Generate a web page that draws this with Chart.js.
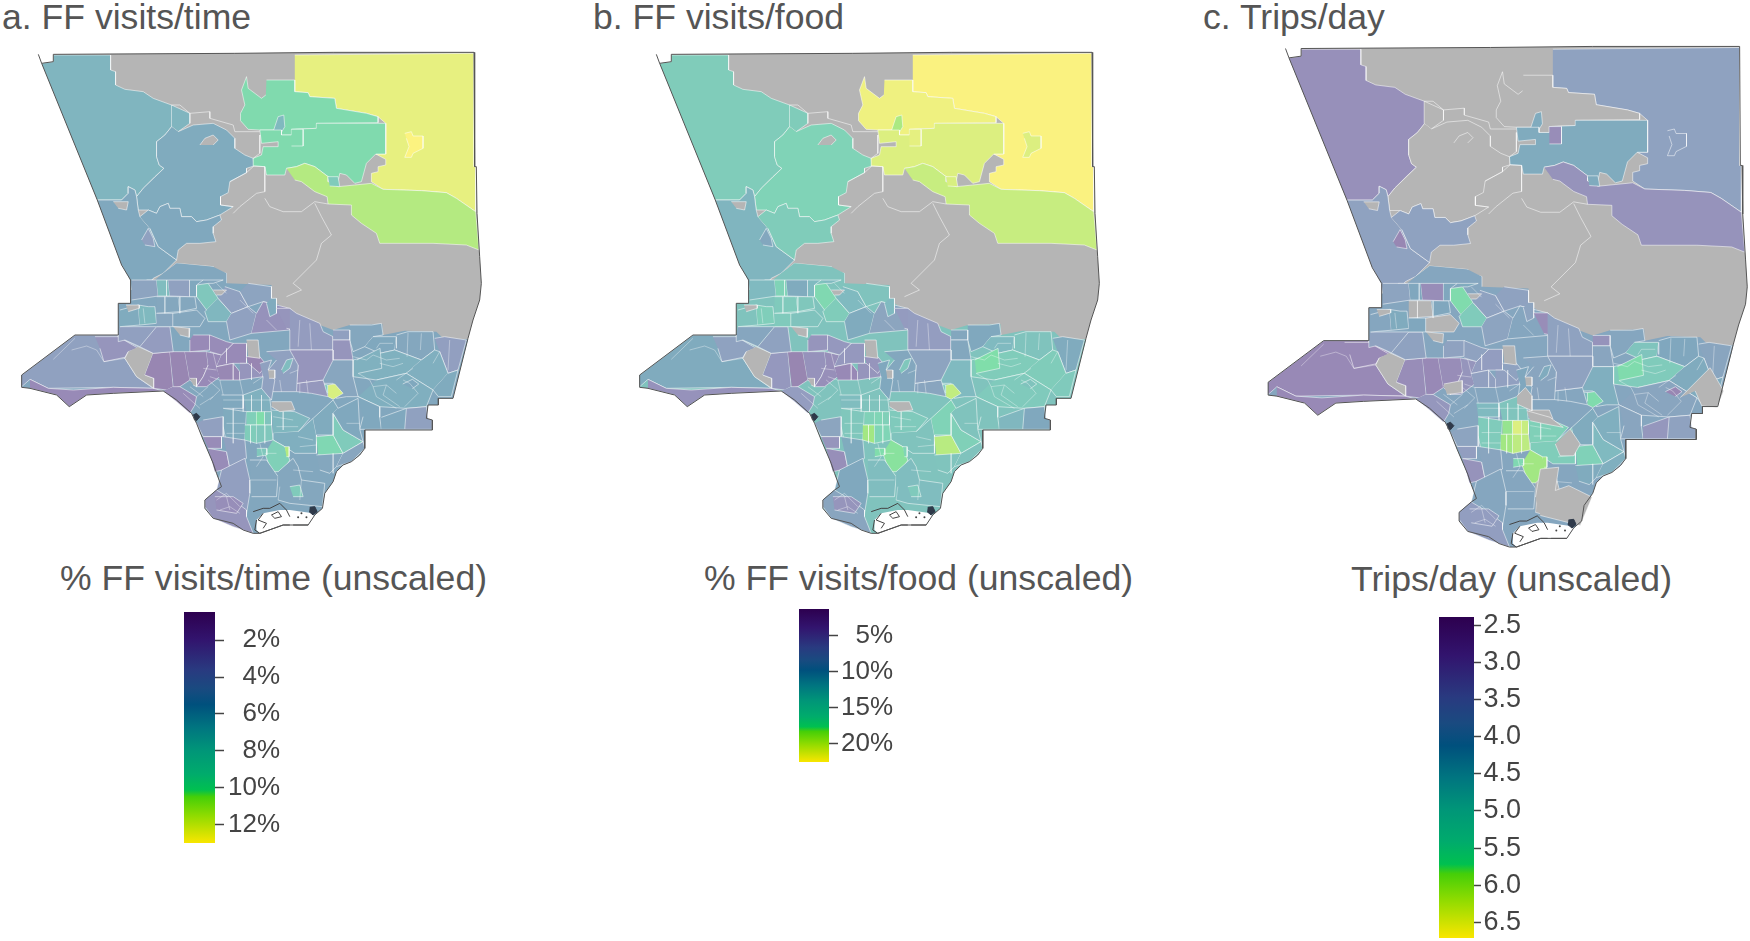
<!DOCTYPE html>
<html>
<head>
<meta charset="utf-8">
<script src="https://cdn.jsdelivr.net/npm/chart.js@4"></script>
<style>
  body { margin: 0; background: #fff; width: 1750px; height: 941px; overflow: hidden; position: relative; font-family: "Liberation Sans", Arial, sans-serif; }
  canvas { position: absolute; }
  .title { position: absolute; font-size: 35.6px; line-height: 36px; color: #555; white-space: nowrap; }
</style>
</head>
<body>
<div class="title" style="left:2px;top:-1px">a. FF visits/time</div>
<div class="title" style="left:593px;top:-1px">b. FF visits/food</div>
<div class="title" style="left:1203px;top:-1px">c. Trips/day</div>
<div class="title" style="left:60px;top:560px">% FF visits/time (unscaled)</div>
<div class="title" style="left:704px;top:560px">% FF visits/food (unscaled)</div>
<div class="title" style="left:1351px;top:561px">Trips/day (unscaled)</div>

<canvas id="mapA" width="473" height="490" style="left:10px;top:50px"></canvas>
<canvas id="mapB" width="473" height="490" style="left:628px;top:50px"></canvas>
<canvas id="mapC" width="493" height="510" style="left:1256px;top:44px"></canvas>
<canvas id="barA" width="96" height="271" style="left:184px;top:592px"></canvas>
<canvas id="barB" width="94" height="193" style="left:799px;top:589px"></canvas>
<canvas id="barC" width="82" height="361" style="left:1439px;top:597px"></canvas>

<script>
// colorbars
const colorStops = [[0, '#2d004f'], [0.12, '#32146e'], [0.25, '#293a80'], [0.33, '#1a4a80'], [0.4, '#00507d'], [0.5, '#007580'],
  [0.6, '#009678'], [0.7, '#00ab6c'], [0.77, '#00c050'], [0.8, '#45cf08'], [0.88, '#8edb00'], [1, '#f9e600']];
const timeRange = [0.47, 13];
const foodRange = [1.3, 22.5];
const tripsRange = [2.39, 6.71];
const timeTicks = [2, 4, 6, 8, 10, 12];
const foodTicks = [5, 10, 15, 20];
const tripsTicks = [2.5, 3, 3.5, 4, 4.5, 5, 5.5, 6, 6.5];

// county outline, in map units
const countyOutline = [[125,190],[160,185],[160,163],[705,160],[1000,157],[1423,157],[1425,500],[1430,500],[1432,640],[1440,770],[1445,850],[1440,900],[1420,960],[1405,1015],[1360,1195],[1316,1195],[1316,1215],[1285,1215],[1280,1255],[1298,1260],[1298,1290],[1095,1290],[1095,1345],[1080,1365],[1055,1385],[1030,1395],[1010,1415],[1000,1445],[975,1480],[968,1525],[945,1545],[925,1575],[850,1575],[780,1600],[760,1600],[730,1590],[700,1570],[640,1555],[615,1525],[615,1500],[650,1470],[665,1460],[650,1420],[640,1390],[610,1320],[590,1270],[575,1240],[530,1200],[490,1173],[340,1180],[260,1185],[208,1220],[170,1185],[90,1165],[65,1162],[65,1125],[225,1005],[355,1005],[355,910],[392,910],[392,840],[365,795],[292,600],[125,190],[115,163]];
// everything south of the forest line, the colour under the small tracts
const urbanBase = [[392,870],[440,860],[490,820],[530,790],[640,800],[680,820],[680,850],[815,855],[815,900],[860,930],[870,950],[960,975],[1000,990],[1050,975],[1148,972],[1150,1005],[1215,992],[1310,995],[1330,1015],[1405,1018],[1360,1195],[1316,1195],[1316,1215],[1285,1215],[1280,1255],[1298,1260],[1298,1290],[1095,1290],[1095,1345],[1080,1365],[1055,1385],[1030,1395],[1010,1415],[1000,1445],[975,1480],[968,1525],[945,1545],[925,1575],[850,1575],[780,1600],[760,1600],[730,1590],[700,1570],[640,1555],[615,1525],[615,1500],[650,1470],[665,1460],[650,1420],[640,1390],[610,1320],[590,1270],[575,1240],[530,1200],[490,1173],[340,1180],[260,1185],[208,1220],[170,1185],[90,1165],[65,1162],[65,1125],[225,1005],[355,1005],[355,910],[392,910]];
const urbanBaseValues = [5.3, 13, 4.0];

const northShapes = [
  [[125,190],[160,185],[160,165],[332,165],[332,210],[347,215],[347,255],[375,268],[430,275],[460,295],[515,315],[515,380],[495,405],[470,425],[470,470],[478,495],[492,505],[465,530],[430,565],[410,590],[405,570],[385,560],[385,580],[365,600],[292,600]],
  [[515,315],[570,340],[570,370],[535,395],[515,380]],
  [[535,395],[580,375],[640,370],[680,390],[705,415],[705,445],[735,465],[760,475],[762,498],[740,505],[740,518],[690,545],[685,578],[662,590],[662,615],[700,620],[660,645],[620,660],[590,665],[575,650],[545,650],[540,625],[510,625],[505,610],[480,620],[470,640],[445,630],[415,630],[410,590],[430,565],[492,505],[478,495],[470,470],[470,425],[495,405],[515,380]],
  [[600,435],[615,415],[640,405],[655,420],[640,435]],
  [[292,600],[365,600],[385,580],[385,560],[405,570],[410,590],[415,630],[420,650],[450,685],[475,740],[530,780],[490,820],[460,835],[440,860],[395,870],[390,840],[365,795]],
  [[340,605],[385,605],[380,630],[355,625]],
  [[420,650],[445,630],[470,640],[480,620],[505,610],[510,625],[540,625],[545,650],[575,650],[590,665],[620,660],[660,645],[665,660],[640,680],[640,700],[648,725],[600,730],[560,730],[535,750],[530,780],[475,740],[450,685]],
  [[425,720],[445,685],[460,715],[465,740],[435,735]],
  [[885,165],[1423,160],[1423,500],[1428,500],[1428,635],[1370,595],[1340,578],[1265,572],[1150,568],[1115,545],[1115,520],[1135,515],[1135,500],[1158,495],[1158,478],[1128,462],[1158,462],[1158,370],[1135,350],[1100,340],[1010,325],[1005,295],[930,290],[925,278],[885,275]],
  [[1215,400],[1235,395],[1240,408],[1270,408],[1270,445],[1240,460],[1235,472],[1215,472],[1228,440],[1220,415]],
  [[800,240],[885,240],[885,275],[925,278],[930,290],[1005,295],[1010,325],[1100,340],[1135,350],[1135,368],[950,370],[950,385],[875,388],[875,405],[845,405],[845,390],[780,390],[745,388],[722,362],[722,340],[735,315],[725,270],[740,230],[745,265],[785,295],[798,285]],
  [[820,395],[835,350],[852,345],[855,380],[840,405]],
  [[950,370],[1158,370],[1158,462],[1128,462],[1100,490],[1085,545],[1065,550],[1040,525],[1020,520],[1015,545],[985,530],[945,500],[915,490],[890,500],[860,505],[855,525],[800,525],[795,500],[762,498],[760,475],[785,465],[790,440],[835,440],[835,425],[785,430],[780,390],[845,390],[845,405],[875,405],[875,388],[950,385]],
  [[875,388],[910,388],[910,438],[875,438]],
  [[860,505],[890,500],[915,490],[945,500],[985,530],[985,545],[1015,560],[1065,555],[1115,550],[1150,568],[1265,572],[1340,578],[1370,595],[1428,635],[1438,750],[1400,735],[1300,730],[1140,730],[1130,700],[1085,670],[1055,645],[1055,615],[985,612],[982,590],[945,575],[905,545],[885,540]],
  [[985,530],[1015,530],[1020,560],[990,558]],
  [[490,820],[530,790],[570,850],[570,900],[500,900]],
  [[530,790],[640,800],[640,830],[590,860]],
  [[460,840],[505,865],[505,900],[460,900]],
  [[395,870],[440,870],[440,840],[460,840],[460,900],[395,900]],
  [[640,810],[680,820],[680,850],[640,860]],
  [[640,860],[815,860],[815,900],[660,900],[650,880]],
  [[590,860],[620,840],[650,880],[640,900],[600,900]]
];
const northTime = [6.4, 6.4, 5.7, null, 5.5, null, 5.5, 4.2, 12.4, 13, 9.7, 6.7, 9.7, 9.7, 11, 8, 4.2, 5.7, 7, 4.2, 4.2, 4.6, 7.7];
const northFood = [14.4, 14.4, 15.7, null, 11.3, null, 14.4, 9.4, 22.4, 21, 21.9, 18.7, 21, 21.4, 20, 20.8, 10.2, 14, 16.1, 10.8, 10.2, 11.9, 16.6];
const northTrips = [3.1, null, null, null, 3.7, null, 3.7, 2.8, 3.7, 3.7, null, 4.2, 4.2, 3.0, 3.2, 4.2, 4.2, 4.1, 3.0, 3.9, 3.9, 3.7, 5.6];

// tracts below the forest line; y here is counted from SOUTH_Y
const SOUTH_Y = 840;
const southShapes = [
  [[65,285],[225,165],[355,165],[355,185],[375,180],[415,200],[420,215],[385,215],[375,235],[410,290],[460,325],[340,322],[145,325],[90,298],[65,320]],
  [[285,170],[355,170],[415,205],[385,215],[375,232],[312,245],[300,205]],
  [[90,298],[145,325],[220,330],[340,322],[460,325],[490,333],[340,340],[260,345],[208,380],[170,345],[90,325]],
  [[415,200],[460,220],[435,285],[462,295],[462,325],[410,290],[375,235],[385,215]],
  [[460,220],[510,215],[520,320],[500,330],[462,325],[462,295],[435,285]],
  [[510,215],[555,215],[570,300],[540,320],[522,325]],
  [[555,215],[620,215],[625,255],[610,290],[590,320],[570,300]],
  [[520,320],[540,320],[590,350],[585,375],[570,400],[530,365],[490,333]],
  [[620,215],[665,225],[650,260],[660,290],[620,320],[590,320],[610,290],[625,255]],
  [[665,225],[700,190],[740,190],[740,250],[700,250],[650,260]],
  [[650,260],[700,250],[720,275],[720,300],[660,300]],
  [[720,250],[740,250],[790,250],[790,290],[720,300]],
  [[740,230],[780,230],[800,255],[780,280],[745,250]],
  [[580,165],[630,165],[630,210],[570,215],[570,180]],
  [[630,165],[680,185],[700,190],[665,225],[630,215]],
  [[470,140],[510,140],[520,215],[460,220],[420,200]],
  [[360,140],[470,140],[420,200],[375,180],[355,185],[355,165]],
  // valley
  [[360,90],[415,75],[420,135],[360,140]],
  [[415,75],[445,80],[465,80],[470,130],[420,135]],
  [[470,50],[535,50],[540,95],[470,100]],
  [[470,100],[520,100],[520,140],[470,140]],
  [[535,50],[585,50],[590,85],[540,95]],
  [[520,100],[590,90],[615,115],[600,140],[520,140]],
  [[590,15],[625,10],[655,55],[620,90],[590,50]],
  [[655,55],[695,100],[680,125],[625,125],[615,95],[620,90]],
  [[395,0],[470,0],[475,48],[395,60]],
  [[470,0],[505,0],[510,48],[475,48]],
  [[505,0],[570,0],[570,50],[510,48]],
  [[570,0],[610,0],[590,15],[590,50],[570,50]],
  [[610,0],[670,0],[640,10],[625,10]],
  [[675,20],[720,35],[745,80],[695,100],[655,55]],
  [[745,10],[815,20],[815,70],[790,65],[745,80],[720,35]],
  [[695,100],[745,80],[770,100],[755,160],[690,180],[680,125]],
  [[770,100],[790,65],[870,85],[870,150],[755,160]],
  [[815,55],[830,55],[830,100],[810,110],[800,70]],
  [[830,85],[870,85],[890,110],[885,150],[860,145]],
  [[870,85],[890,100],[960,130],[970,155],[1000,170],[1000,210],[870,210],[870,150]],
  // east
  [[1050,135],[1115,135],[1145,130],[1150,165],[1120,170],[1095,200],[1060,215],[1050,180]],
  [[1000,150],[1050,150],[1050,180],[1000,180]],
  [[1000,180],[1050,180],[1060,240],[1000,240]],
  [[1120,170],[1190,170],[1185,210],[1140,220],[1095,200]],
  [[1190,165],[1225,155],[1300,155],[1305,210],[1265,240],[1185,210]],
  [[1305,175],[1335,170],[1400,180],[1375,270],[1345,280],[1320,215]],
  [[1060,240],[1140,220],[1185,210],[1265,240],[1220,280],[1130,300],[1060,290]],
  [[1071,240],[1141,205],[1146,265],[1076,280]],
  [[1265,240],[1305,210],[1320,215],[1345,280],[1300,330],[1220,280]],
  [[1345,280],[1375,270],[1355,350],[1316,350],[1300,330]],
  [[1130,300],[1220,280],[1300,330],[1280,380],[1220,385],[1140,380],[1075,350]],
  [[1209,312],[1238,298],[1257,312],[1238,326]],
  [[1220,385],[1280,380],[1285,415],[1298,420],[1298,448],[1215,448]],
  [[1075,350],[1140,380],[1140,412],[1145,448],[1080,448],[1090,410]],
  [[1145,412],[1220,385],[1215,448],[1145,448]],
  [[1000,240],[1060,240],[1060,290],[1075,350],[1040,350],[1010,355],[1000,340],[1020,335],[1000,310],[970,310]],
  [[955,310],[985,315],[985,340]],
  [[890,310],[970,300],[985,350],[935,340],[890,335]],
  [[870,210],[1000,210],[1000,240],[970,300],[890,310],[895,255]],
  // central
  [[800,215],[870,210],[895,255],[890,335],[815,335],[815,300],[805,270],[830,240]],
  [[780,250],[815,240],[805,270],[825,300],[815,360],[785,330],[790,290]],
  [[845,270],[860,240],[880,235],[870,265],[850,280]],
  [[665,345],[730,345],[730,385],[670,385]],
  [[730,345],[785,325],[810,355],[815,400],[740,395]],
  [[670,385],[740,395],[735,480],[680,490],[670,440]],
  [[740,395],[770,395],[770,435],[740,435]],
  [[770,395],[795,395],[795,435],[770,435]],
  [[795,395],[815,395],[815,435],[795,435]],
  [[735,435],[770,435],[770,490],[735,480]],
  [[770,435],[815,435],[820,480],[770,490]],
  [[815,390],[885,395],[930,415],[895,455],[820,460]],
  [[895,455],[940,415],[950,465],[950,520],[885,520],[855,500],[820,480],[820,460]],
  [[820,480],[855,500],[870,540],[850,575],[815,575],[795,520]],
  [[855,500],[868,500],[868,530],[860,530]],
  [[771,505],[801,505],[801,525],[771,530]],
  [[950,470],[1000,465],[1030,520],[995,530],[955,525]],
  [[1000,400],[1030,450],[1090,485],[1030,520],[1000,465]],
  [[940,415],[1000,360],[1015,385],[1000,400],[1000,465],[950,465]],
  [[1015,385],[1075,355],[1080,448],[1090,485],[1030,450],[1000,400]],
  [[950,525],[1030,520],[1010,560],[990,580],[960,570]],
  [[1030,520],[1090,485],[1095,505],[1055,545],[1010,560]],
  [[985,315],[1005,312],[1030,340],[1000,358],[985,350]],
  // south bay and peninsula
  [[610,420],[670,410],[670,470],[610,470],[590,430]],
  [[610,470],[665,470],[665,505],[625,505]],
  [[625,505],[680,515],[690,565],[645,575]],
  [[670,470],[735,480],[740,535],[690,565],[680,515]],
  [[650,630],[665,570],[735,535],[750,600],[750,640],[740,700],[700,660]],
  [[650,630],[700,660],[740,690],[740,710],[760,760],[700,740],[640,715],[615,680],[615,660]],
  [[645,650],[700,650],[730,670],[710,700],[650,690]],
  [[750,540],[800,540],[835,590],[830,650],[755,650]],
  [[835,575],[880,535],[895,560],[905,600],[975,610],[968,680],[870,670],[835,660]],
  [[870,620],[900,615],[910,650],[880,650]],
  // no data in any panel
  [[520,140],[570,145],[568,172],[540,165]],
  [[378,75],[418,75],[418,85],[385,95]],
  [[740,180],[775,180],[780,235],[745,230]],
  [[805,270],[825,270],[825,295],[808,295]],
  [[815,365],[875,365],[885,390],[840,395],[815,380]],
  [[570,295],[590,295],[590,320],[580,315]],
  [[640,30],[680,30],[665,45],[650,45]]
];
const southTime = [4.2, 3, 2, null, 1.5, 1.5, 1.7, 2.2, 2, 2, 1.7, 3, 1.5, 2, 2.2, 3.6, 4,
  5.7, 6.7, 5.2, 4.9, 5.2, 5.2, 7.7, 6.5, 4.6, 7, 4.2, 5.5, 5.2, 4.2, 4.6, 4.2, 2.7, 5.7, 3, 3.6,
  5.2, 4, 3, 5.5, 5.2, 3.9, 6.1, 6.1, 6, 5.7, 6, 5.5, 4.2, 5.5, 5.5, 4.9, 8, 3.2, 3,
  4.2, 4.2, 7, 5.5, 6.1, 5.7, 8.5, 9.9, 7.4, 8.2, 7.7, 6.5, 6, 8.7, 11, 7.7, 9.4, 8, 5.7, 5.5, 5.2, 4.9, 12,
  4, 2.2, 2.2, 4.2, 3.9, 3, 2.4, 5.2, 5.2, 8,
  null, null, null, null, null, null, null];
const southFood = [10.2, 7.7, 5.1, null, 6, 3, 5.1, 6.6, 4.7, 6, 3.8, 5.5, 5.5, 5.5, 6, 7.7, 9,
  13, 14.7, 14, 14, 13.6, 13, 16.6, 14.4, 11.9, 15.7, 10.2, 11.9, 11.9, 11.9, 13, 10.2, 8.3, 11.9, 6.4, 6.6,
  9.8, 9.4, 9.4, 11.9, 13, 10.2, 14.4, 17.4, 14.4, 14, 14, 13, 9.8, 13, 11.5, 11.9, 14, 8.7, 8.1,
  9.4, 9.8, 13.6, 12.3, 13, 13.6, 15.3, 16.1, 15.1, 18.3, 16.1, 14, 13, 17.8, 16.1, 17.2, 19.3, 15.1, 15.7, 13, 13.2, 13, 19.7,
  8.3, 5.5, 4.7, 10.2, 9.8, 8.7, 5.5, 12.3, 12.3, 14,
  null, null, null, null, null, null, null];
const southTrips = [2.9, 2.9, 2.9, null, 3, 2.9, 3, 3.3, 3.25, 3.5, 3.6, 3.6, 3.7, 3.7, 3.7, 3.7, 3.7,
  4, 4.2, null, 4.1, 4.1, null, 5.6, 5, 3.8, 4.1, 3, 4.1, 4.2, 3.7, 3.7, 3.8, 4, 3.8, 3, 3.7,
  4, 3.2, 3.9, 4.8, 4.1, 3.9, 5, 5.6, 4.2, 4.2, 3.9, 2.8, 3.7, 3.9, 3.3, 4.3, 4.5, 4, 3.7,
  3.9, 4.1, 4.2, 4.55, 4.8, 5, 5.8, 6.4, 6.2, 5.85, 6.1, 5.2, 5.1, 5.85, 5.85, 5.5, 5.25, 4.55, 4.2, 4.3, 4.2, 4.3, 5.6,
  3.8, 3.55, 3.2, 3.9, 4, 3.55, 3.5, 4, null, 5,
  null, null, null, null, null, null, null];

// extra holes that only the trips panel has, full map units
const tripsGrayShapes = [
  [[835,1456],[849,1375],[902,1370],[892,1437],[931,1423],[998,1456],[964,1538],[849,1509]],
  [[782,1164],[806,1140],[825,1164],[825,1207],[782,1188]],
  [[810,1207],[877,1226],[915,1255],[862,1245],[820,1236]],
  [[935,1260],[964,1303],[945,1337],[906,1337],[892,1303]],
  [[1252,1169],[1338,1083],[1377,1150],[1358,1198],[1314,1193],[1295,1150]],
  [[571,1130],[624,1120],[624,1155],[580,1160]]
];

// boundary lines inside the grey forest area
const forestLines = [
  [[795,500],[795,575],[770,580],[720,620],[700,640]],
  [[795,595],[810,620],[850,635],[905,635],[945,605],[985,612]],
  [[945,610],[965,650],[995,705],[965,730],[950,780],[905,825],[880,850],[905,870],[860,890]],
  [[515,315],[540,315],[570,340],[630,335],[630,355],[700,375],[705,395],[780,395]],
  [[662,590],[662,615],[700,620]],
  [[690,545],[740,518],[762,498],[795,500]],
  [[780,405],[780,460],[760,475]]
];

// fine tract edges in the dense parts, y counted from SOUTH_Y
const detailLines = [
  [[1060,230],[1100,240],[1120,225],[1160,240],[1200,235]],
  [[1075,280],[1110,300],[1120,320],[1160,315],[1190,340]],
  [[1120,320],[1130,350],[1190,385]], [[1160,315],[1150,345],[1200,380]],
  [[1190,300],[1240,265]], [[1210,300],[1230,310],[1255,340],[1215,380]],
  [[1140,250],[1180,260],[1210,250]], [[1130,205],[1140,190],[1180,190]],
  [[1190,170],[1190,205]], [[1225,158],[1222,230]], [[1265,160],[1262,210]],
  [[1320,215],[1300,250]], [[1350,180],[1345,270]],
  [[640,220],[650,260]], [[680,205],[680,250]], [[700,250],[700,300]],
  [[610,265],[650,270]], [[630,290],[660,300]], [[660,300],[670,345]],
  [[720,300],[730,345]], [[755,250],[755,300]], [[790,290],[760,310]],
  [[625,300],[660,330],[630,360]], [[590,350],[625,320]], [[600,375],[640,350]],
  [[730,345],[730,395]], [[755,345],[755,395]], [[785,345],[785,395]],
  [[670,360],[815,360]], [[700,385],[700,490]], [[680,430],[735,430]],
  [[680,460],[735,460]], [[752,435],[752,490]], [[795,435],[795,490]],
  [[820,410],[880,420]], [[850,395],[850,450]], [[830,440],[895,440]],
  [[895,470],[940,480]], [[900,500],[950,495]], [[780,490],[790,530],[770,560]],
  [[795,520],[830,520]], [[900,340],[900,310]], [[920,300],[925,340]],
  [[870,280],[895,270]], [[840,300],[845,335]],
  [[750,600],[830,600]], [[840,620],[835,660]], [[905,600],[900,660]],
  [[880,570],[940,575]], [[1000,520],[1000,580]], [[1040,430],[1080,430]],
  [[650,660],[680,640],[720,680]], [[660,690],[690,680],[720,700]], [[680,650],[690,690]],
  [[550,340],[600,385]], [[570,320],[610,350]],
  [[430,85],[435,130]], [[495,50],[495,100]], [[500,0],[500,48]], [[540,50],[540,100]],
  [[650,10],[680,40]], [[720,60],[760,100]], [[800,120],[830,150]],
  [[900,120],[895,200]], [[930,130],[935,210]],
  [[215,210],[260,198],[290,210],[312,245]], [[312,245],[375,235]], [[160,238],[225,175]]
];

// harbour water and its dark edges
const harborWater = [[770,1560],[790,1540],[840,1530],[870,1530],[940,1540],[945,1545],[925,1575],[850,1575],[780,1600],[770,1590]];
const harborLines = [
  [[760,1535],[790,1525],[810,1525],[840,1510],[860,1530],[870,1550]],
  [[770,1560],[765,1590],[780,1600],[850,1575]],
  [[790,1540],[775,1560],[800,1570],[790,1585]],
  [[815,1545],[835,1535],[845,1550],[825,1555],[815,1545]],
  [[850,1575],[870,1575]], [[880,1575],[925,1575]]
];
const darkBlobs = [
  [[580,1245],[590,1240],[600,1250],[590,1262],[582,1258]],
  [[930,1522],[945,1520],[952,1535],[940,1545],[928,1535]]
];
const harborDots = [[895,1552],[920,1552],[905,1540]];

const GRAY = '#b5b5b5';
const TRACT_LINE = 'rgba(255,255,255,0.65)';
const DETAIL_LINE = 'rgba(255,255,255,0.5)';
const OUTLINE = '#555';

function hexRgb(h) {
  return [parseInt(h.slice(1, 3), 16), parseInt(h.slice(3, 5), 16), parseInt(h.slice(5, 7), 16)];
}

// tract fill: the colorbar colour at half opacity over white
function tractColor(value, range) {
  if (value === null) return GRAY;
  const p = Math.min(1, Math.max(0, (value - range[0]) / (range[1] - range[0])));
  let i = 0;
  while (i < colorStops.length - 2 && colorStops[i + 1][0] < p) i++;
  const [p0, c0] = colorStops[i];
  const [p1, c1] = colorStops[i + 1];
  const t = (p - p0) / (p1 - p0);
  const a = hexRgb(c0), b = hexRgb(c1);
  const rgb = a.map((v, k) => Math.round((v + (b[k] - v) * t + 255) / 2));
  return `rgb(${rgb.join(',')})`;
}

const toPoints = (shape, dy) => shape.map(([x, y]) => ({x: x, y: y + dy}));

function area(shape, dy, fillColor, lineColor, lineWidth) {
  return {
    data: toPoints(shape, dy),
    showLine: true,
    fill: 'shape',
    backgroundColor: fillColor,
    borderColor: lineColor,
    borderWidth: lineWidth,
    pointRadius: 0,
    tension: 0
  };
}

function line(shape, dy, lineColor, lineWidth) {
  return {
    data: toPoints(shape, dy),
    showLine: true,
    fill: false,
    borderColor: lineColor,
    borderWidth: lineWidth,
    pointRadius: 0,
    tension: 0
  };
}

function drawMap(id, range, northValues, southValues, baseValue, extraGray) {
  const sets = [];
  sets.push(area(countyOutline, 0, GRAY, GRAY, 0));
  northShapes.forEach((s, i) => sets.push(area(s, 0, tractColor(northValues[i], range), TRACT_LINE, 0.8)));
  sets.push(area(urbanBase, 0, tractColor(baseValue, range), TRACT_LINE, 0));
  southShapes.forEach((s, i) => sets.push(area(s, SOUTH_Y, tractColor(southValues[i], range), TRACT_LINE, 0.8)));
  detailLines.forEach(s => sets.push(line(s, SOUTH_Y, DETAIL_LINE, 0.7)));
  extraGray.forEach(s => sets.push(area(s, 0, GRAY, TRACT_LINE, 0.8)));
  forestLines.forEach(s => sets.push(line(s, 0, TRACT_LINE, 0.8)));
  sets.push(area(harborWater, 0, '#fff', '#fff', 0));
  harborLines.forEach(s => sets.push(line(s, 0, '#444', 1)));
  darkBlobs.forEach(s => sets.push(area(s, 0, '#2f3a4a', '#2f3a4a', 1)));
  sets.push({data: harborDots.map(([x, y]) => ({x, y})), backgroundColor: '#444', borderWidth: 0, pointRadius: 1});
  sets.push(line(countyOutline, 0, OUTLINE, 1));

  new Chart(document.getElementById(id), {
    type: 'scatter',
    data: {datasets: sets.reverse()}, // first dataset paints on top
    options: {
      responsive: false,
      animation: false,
      events: [],
      layout: {padding: 0, autoPadding: false},
      plugins: {legend: {display: false}, tooltip: {enabled: false}},
      scales: {
        x: {type: 'linear', min: 30, max: 1450, display: false},
        y: {type: 'linear', min: 150, max: 1620, reverse: true, display: false}
      }
    }
  });
}

function drawColorbar(id, range, ticks, label, barWidth, fontSize, tickLength, vPad) {
  new Chart(document.getElementById(id), {
    type: 'bar',
    data: {
      labels: [''],
      datasets: [{
        data: [range],
        barPercentage: 1,
        categoryPercentage: 1,
        borderWidth: 0,
        backgroundColor: ctx => {
          const area = ctx.chart.chartArea;
          if (!area) return colorStops[0][1];
          const g = ctx.chart.ctx.createLinearGradient(0, area.top, 0, area.bottom);
          colorStops.forEach(([p, c]) => g.addColorStop(p, c));
          return g;
        }
      }]
    },
    options: {
      responsive: false,
      animation: false,
      events: [],
      layout: {padding: {top: vPad, bottom: vPad}, autoPadding: false},
      plugins: {legend: {display: false}, tooltip: {enabled: false}},
      scales: {
        x: {display: false},
        y: {
          position: 'right',
          reverse: true,
          min: range[0],
          max: range[1],
          afterBuildTicks: axis => { axis.ticks = ticks.map(v => ({value: v})); },
          afterFit: axis => { axis.width = axis.chart.width - barWidth; },
          border: {display: false},
          grid: {drawOnChartArea: false, tickLength: tickLength, tickColor: '#444', tickWidth: 1.5},
          ticks: {
            autoSkip: false,
            crossAlign: 'far',
            color: '#444',
            font: {family: '"Liberation Sans", Arial, sans-serif', size: fontSize},
            callback: label
          }
        }
      }
    }
  });
}

drawMap('mapA', timeRange, northTime, southTime, urbanBaseValues[0], []);
drawMap('mapB', foodRange, northFood, southFood, urbanBaseValues[1], []);
drawMap('mapC', tripsRange, northTrips, southTrips, urbanBaseValues[2], tripsGrayShapes);

drawColorbar('barA', timeRange, timeTicks, v => v + '%', 31, 26, 9, 20);
drawColorbar('barB', foodRange, foodTicks, v => v + '%', 30, 26, 9, 20);
drawColorbar('barC', tripsRange, tripsTicks, v => v.toFixed(1), 35, 27, 7, 20);
</script>
</body>
</html>
